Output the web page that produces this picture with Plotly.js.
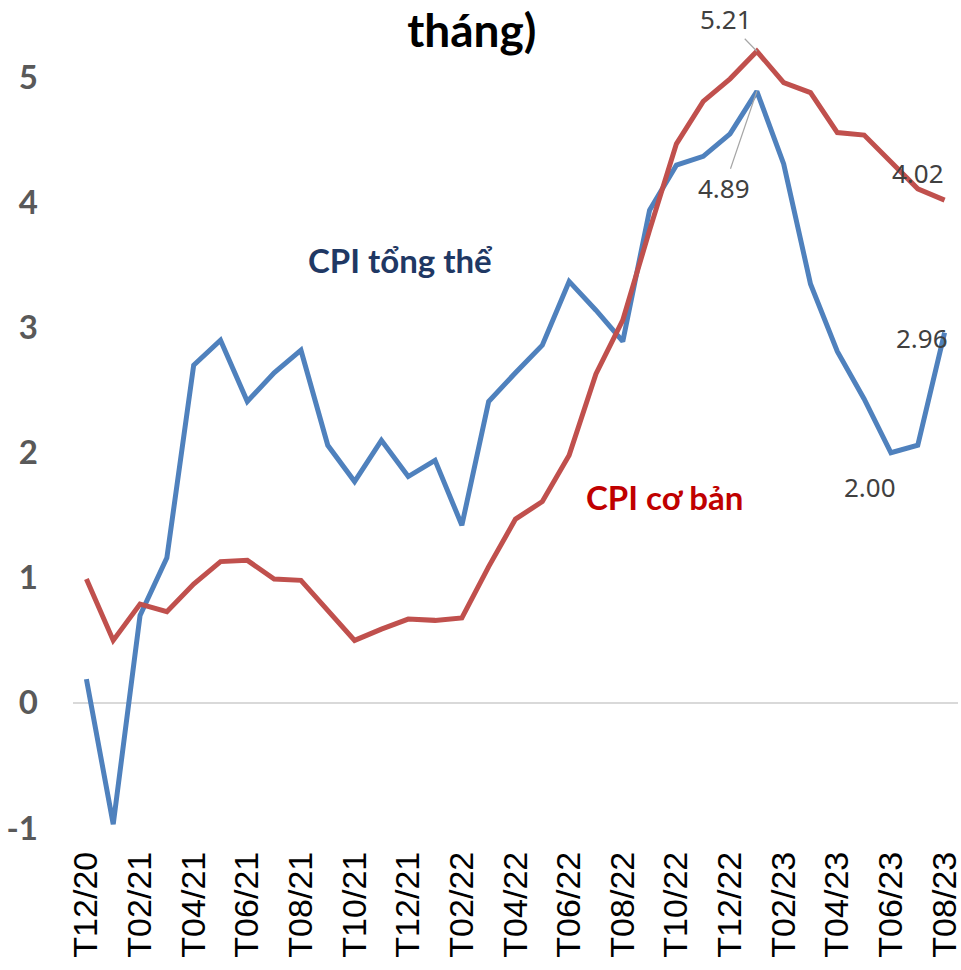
<!DOCTYPE html>
<html>
<head>
<meta charset="utf-8">
<script src="https://cdn.plot.ly/plotly-3.0.1.min.js"></script>
<style>html,body{margin:0;padding:0;background:#fff;}#chart{width:961px;height:970px;}</style>
</head>
<body>
<div id="chart"></div>
<script>
const months = ["T12/20","T01/21","T02/21","T03/21","T04/21","T05/21","T06/21","T07/21","T08/21","T09/21","T10/21","T11/21",
  "T12/21","T01/22","T02/22","T03/22","T04/22","T05/22","T06/22","T07/22","T08/22","T09/22","T10/22","T11/22",
  "T12/22","T01/23","T02/23","T03/23","T04/23","T05/23","T06/23","T07/23","T08/23"];
const cpiHeadline = [0.19,-0.97,0.70,1.16,2.70,2.90,2.41,2.64,2.82,2.06,1.77,2.10,
  1.81,1.94,1.42,2.41,2.64,2.86,3.37,3.14,2.89,3.94,4.30,4.37,
  4.55,4.89,4.31,3.35,2.81,2.43,2.00,2.06,2.96];
const cpiCore = [0.99,0.50,0.79,0.73,0.95,1.13,1.14,0.99,0.98,0.74,0.50,0.59,
  0.67,0.66,0.68,1.09,1.47,1.61,1.98,2.63,3.06,3.78,4.47,4.81,
  4.99,5.21,4.96,4.88,4.56,4.54,4.33,4.11,4.02];
const tickLabels = months.filter((m,i)=>i%2===0);
const yTicks = [-1,0,1,2,3,4,5];
const yTickText = ["-1","0","1","2","3","4","5"];
const seriesNames = ["CPI tổng thể","CPI cơ bản"];
const titleText = "tháng)";

const labelFont = {family:"Noto Sans, sans-serif", size:26, color:"#404040"};
const fmt = v => v.toFixed(2);
const iPeak = 25, iLast = 32, iLow = 30;

const traces = [
  {x:months, y:cpiHeadline, type:"scatter", mode:"lines", name:seriesNames[0],
   line:{color:"#4f81bd", width:5}},
  {x:months, y:cpiCore, type:"scatter", mode:"lines", name:seriesNames[1],
   line:{color:"#c0504d", width:5}}
];

const annotations = [
  {x:months[iPeak], y:cpiCore[iPeak], text:fmt(cpiCore[iPeak]), showarrow:true, arrowhead:0,
   arrowwidth:1.2, arrowcolor:"#a6a6a6", ax:-31, ay:-32, standoff:0, font:labelFont},
  {x:months[iPeak], y:cpiHeadline[iPeak], text:fmt(cpiHeadline[iPeak]), showarrow:true, arrowhead:0,
   arrowwidth:1.2, arrowcolor:"#a6a6a6", ax:-33, ay:97, standoff:0, font:labelFont},
  {x:months[iLast], y:cpiCore[iLast], text:fmt(cpiCore[iLast]), showarrow:false,
   xshift:-27, yshift:27, font:labelFont},
  {x:months[iLast], y:cpiHeadline[iLast], text:fmt(cpiHeadline[iLast]), showarrow:false,
   xshift:-23, yshift:-5, font:labelFont},
  {x:months[iLow], y:cpiHeadline[iLow], text:fmt(cpiHeadline[iLow]), showarrow:false,
   xshift:-21, yshift:-34, font:labelFont},
  {xref:"paper", yref:"paper", x:0.3706, y:0.686, xanchor:"center", yanchor:"middle",
   text:seriesNames[0], showarrow:false,
   font:{family:"Lato, sans-serif", size:33, color:"#1f3864", weight:"bold"}},
  {xref:"paper", yref:"paper", x:0.668, y:0.40, xanchor:"center", yanchor:"middle",
   text:seriesNames[1], showarrow:false,
   font:{family:"Lato, sans-serif", size:33, color:"#c00000", weight:"bold"}}
];

const layout = {
  width:961, height:970,
  margin:{l:73, r:3, t:0, b:142},
  paper_bgcolor:"#ffffff", plot_bgcolor:"#ffffff",
  showlegend:false,
  title:{text:"<b>"+titleText+"</b>", x:0.491, xanchor:"center", y:0.968, yanchor:"middle",
         font:{family:"Lato, sans-serif", size:46, color:"#000000"}},
  xaxis:{type:"category", range:[-0.5, months.length-0.5], tickvals:tickLabels, ticktext:tickLabels,
         tickangle:-90, showgrid:false, zeroline:false, showline:false, ticks:"",
         ticklabelstandoff:16,
         tickfont:{family:"Liberation Sans, Arial, sans-serif", size:34, color:"#000000"}},
  yaxis:{range:[-1, 5.62], tickvals:yTicks, ticktext:yTickText, showgrid:false, zeroline:true,
         zerolinecolor:"#d9d9d9", zerolinewidth:1.5, showline:false, ticks:"", ticklabelstandoff:34,
         tickfont:{family:"Lato, sans-serif", size:33, color:"#595959", weight:"bold"}},
  annotations:annotations
};

Plotly.newPlot("chart", traces, layout, {displayModeBar:false, staticPlot:true});
</script>
</body>
</html>
